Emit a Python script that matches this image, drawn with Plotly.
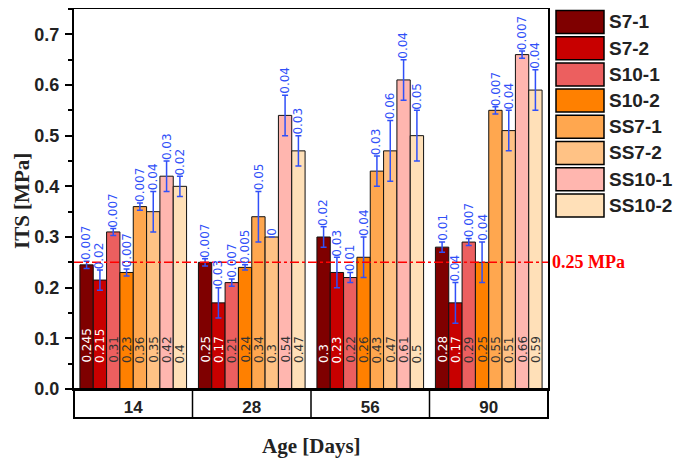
import plotly.graph_objects as go

# ---------------- data ----------------
ages = ["14", "28", "56", "90"]
series_names = ["S7-1", "S7-2", "S10-1", "S10-2", "SS7-1", "SS7-2", "SS10-1", "SS10-2"]

s7_1 = [0.245, 0.25, 0.30, 0.28]
s7_2 = [0.215, 0.17, 0.23, 0.17]
s10_1 = [0.31, 0.21, 0.22, 0.29]
s10_2 = [0.23, 0.24, 0.26, 0.25]
ss7_1 = [0.36, 0.34, 0.43, 0.55]
ss7_2 = [0.35, 0.30, 0.47, 0.51]
ss10_1 = [0.42, 0.54, 0.61, 0.66]
ss10_2 = [0.40, 0.47, 0.50, 0.59]

s7_1_err = [0.007, 0.007, 0.02, 0.01]
s7_2_err = [0.02, 0.03, 0.03, 0.04]
s10_1_err = [0.007, 0.007, 0.01, 0.007]
s10_2_err = [0.007, 0.005, 0.04, 0.04]
ss7_1_err = [0.007, 0.05, 0.03, 0.007]
ss7_2_err = [0.04, 0.0, 0.06, 0.04]
ss10_1_err = [0.03, 0.04, 0.04, 0.007]
ss10_2_err = [0.02, 0.03, 0.05, 0.04]

threshold = 0.25
threshold_label = "0.25 MPa"

values = [s7_1, s7_2, s10_1, s10_2, ss7_1, ss7_2, ss10_1, ss10_2]
errors = [s7_1_err, s7_2_err, s10_1_err, s10_2_err, ss7_1_err, ss7_2_err, ss10_1_err, ss10_2_err]

# ---------------- style ----------------
colors = ["#7F0000", "#C80000", "#EC5F5F", "#FF8000", "#FFA74F", "#FFC285", "#FFB6AF", "#FFE0B8"]
value_text_colors = ["white", "white", "#333333", "#333333", "#333333", "#333333", "#333333", "#333333"]
err_color = "#3050F8"

# the page body has an 8px margin, so the figure is shrunk and coordinates shifted
OFF = 8
W, H = 682 - OFF, 462 - OFF
ML, MT = 74 - OFF, 9 - OFF
PLOT_R, PLOT_B = 548 - OFF, 389 - OFF
MR, MB = W - PLOT_R, H - PLOT_B
PW, PH = W - ML - MR, H - MT - MB


def px_x(x):
    return (x - OFF - ML) / PW


def px_y(y):
    return (H - MB - (y - OFF)) / PH


n = len(series_names)
group_frac = 0.9
bw = group_frac / n

fig = go.Figure()
annotations = []
for i, (name, vals, errs) in enumerate(zip(series_names, values, errors)):
    xs = [g - group_frac / 2 + bw * (i + 0.5) for g in range(len(ages))]
    fig.add_trace(go.Bar(
        x=xs, y=vals, width=bw, name=name,
        marker=dict(color=colors[i], line=dict(color="#111111", width=1)),
        error_y=dict(type="data", array=errs, visible=True, color=err_color,
                     thickness=1.5, width=3),
        showlegend=False,
    ))
    for x, v, e in zip(xs, vals, errs):
        annotations.append(dict(
            x=x, y=v + e, xref="x", yref="y", text=f"{e:g}", showarrow=False,
            textangle=-90, xanchor="center", yanchor="bottom", yshift=-1,
            font=dict(family="DejaVu Sans", size=12, color=err_color)))
        annotations.append(dict(
            x=x, y=0, xref="x", yref="y", text=f"{v:g}", showarrow=False,
            textangle=-90, xanchor="center", yanchor="bottom", yshift=24,
            font=dict(family="DejaVu Sans", size=12, color=value_text_colors[i])))

shapes = []
# threshold line
shapes.append(dict(type="line", xref="paper", x0=0, x1=1, yref="y", y0=threshold, y1=threshold,
                   line=dict(color="red", width=1.5, dash="dashdot"), layer="above"))
annotations.append(dict(xref="paper", x=px_x(550), yref="y", y=threshold, text=f"<b>{threshold_label}</b>",
                        showarrow=False, xanchor="left", yanchor="middle",
                        font=dict(family="Liberation Serif", size=18, color="red")))

# category box under plot
box_bottom = px_y(418)
shapes.append(dict(type="rect", xref="paper", x0=0, x1=1, yref="paper", y0=box_bottom, y1=0,
                   line=dict(color="black", width=2)))
for k in range(1, len(ages)):
    shapes.append(dict(type="line", xref="paper", x0=k / len(ages), x1=k / len(ages),
                       yref="paper", y0=box_bottom, y1=0, line=dict(color="black", width=1.5)))

# manual legend with large swatches
for i, name in enumerate(series_names):
    cy = 22 + i * 26.2
    shapes.append(dict(type="rect", xref="paper", yref="paper",
                       x0=px_x(556), x1=px_x(604), y0=px_y(cy + 11.5), y1=px_y(cy - 11.5),
                       fillcolor=colors[i], line=dict(color="black", width=1.5)))
    annotations.append(dict(xref="paper", yref="paper", x=px_x(607), y=px_y(cy), text=f"<b>{name}</b>",
                            showarrow=False, xanchor="left", yanchor="middle",
                            font=dict(family="Liberation Sans", size=19, color="#222222")))

# axis titles
annotations.append(dict(xref="paper", yref="paper", x=px_x(22), y=px_y(201), text="<b>ITS [MPa]</b>",
                        showarrow=False, textangle=-90, xanchor="center", yanchor="middle",
                        font=dict(family="Liberation Serif", size=21, color="#222222")))
annotations.append(dict(xref="paper", yref="paper", x=0.5, y=px_y(446), text="<b>Age [Days]</b>",
                        showarrow=False, xanchor="center", yanchor="middle",
                        font=dict(family="Liberation Serif", size=21, color="#222222")))

fig.update_layout(
    width=W, height=H,
    margin=dict(l=ML, r=MR, t=MT, b=MB, autoexpand=False),
    paper_bgcolor="white", plot_bgcolor="white",
    barmode="overlay",
    shapes=shapes, annotations=annotations,
    showlegend=False,
)
fig.update_xaxes(
    range=[-0.5, len(ages) - 0.5], tickmode="array", tickvals=list(range(len(ages))),
    ticktext=[f"<b>{a}</b>" for a in ages], ticks="", showgrid=False, zeroline=False,
    showline=True, linecolor="black", linewidth=2, mirror=True,
    tickfont=dict(family="Liberation Sans", size=17, color="#222222"), ticklabelstandoff=2,
)
fig.update_yaxes(
    range=[0, 0.75], dtick=0.1, tick0=0, tickformat=".1f", ticks="outside", ticklen=7, tickwidth=2,
    tickcolor="black", showgrid=False, zeroline=False,
    showline=True, linecolor="black", linewidth=2, mirror=True,
    minor=dict(dtick=0.05, ticks="outside", ticklen=4, tickwidth=1.5, tickcolor="black"),
    tickfont=dict(family="Liberation Sans", size=18, color="#222222"), ticklabelstandoff=2,
    tickprefix="<b>", ticksuffix="</b>",
)

fig.write_html("out.html")
